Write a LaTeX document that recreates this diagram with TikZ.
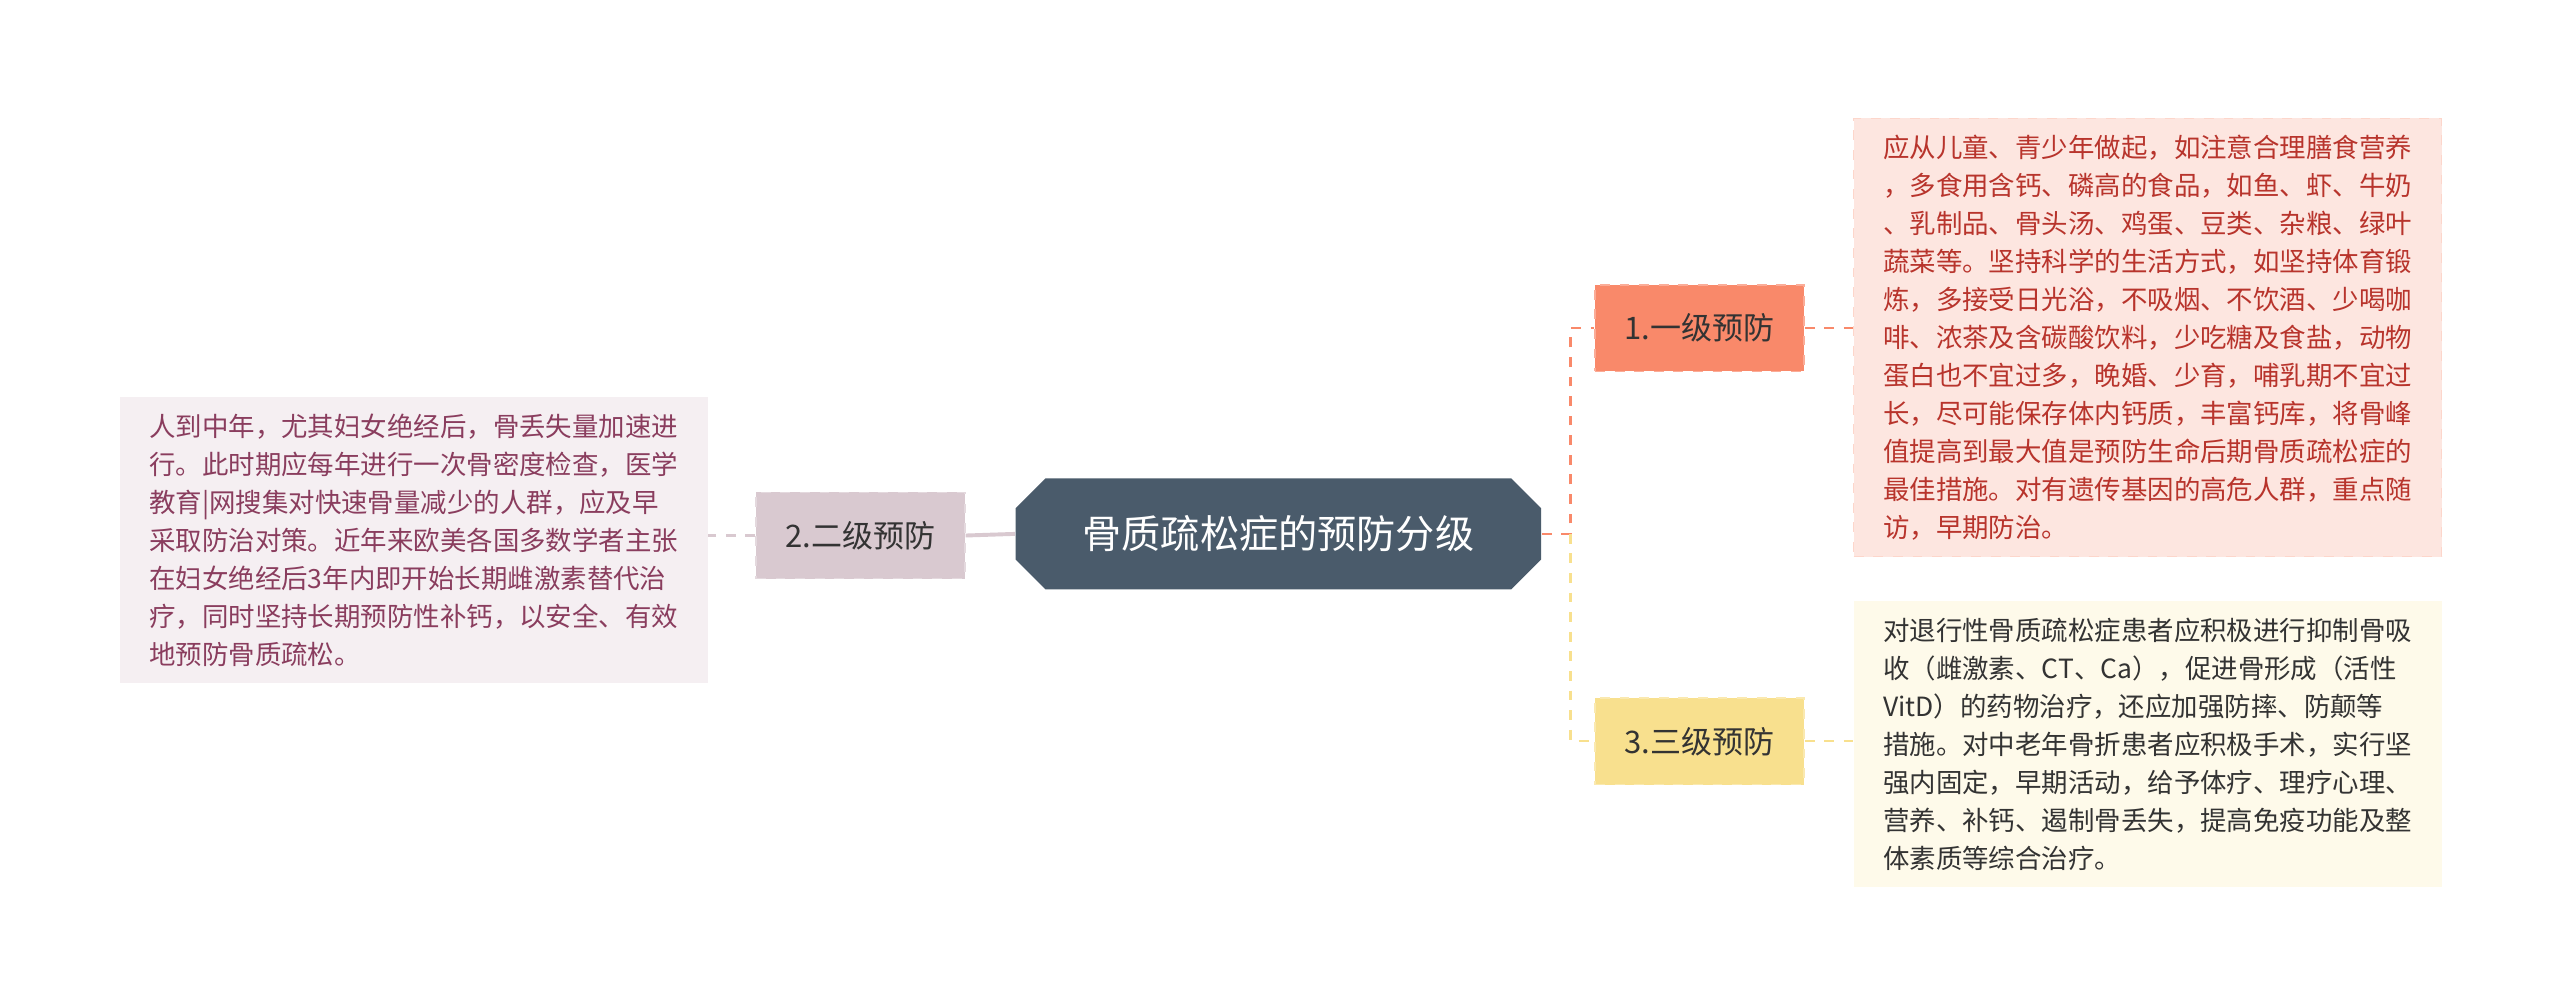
\documentclass[tikz,border=0pt]{standalone}
\usepackage{fontspec}
\setmainfont{Noto Sans CJK SC}
\usetikzlibrary{shapes.misc}
\definecolor{hubfill}{HTML}{4A5B6B}
\definecolor{onefill}{HTML}{F9896A}
\definecolor{onetext}{HTML}{FDE6E0}
\definecolor{oneink}{HTML}{B8342C}
\definecolor{twofill}{HTML}{D9C9D0}
\definecolor{twotext}{HTML}{F5EFF2}
\definecolor{twoink}{HTML}{8A3D5E}
\definecolor{threefill}{HTML}{F8E08E}
\definecolor{threetext}{HTML}{FEFAEA}
\definecolor{threeink}{HTML}{333333}
\begin{document}
\begin{tikzpicture}[x=0.5pt,y=-0.5pt]
\tikzstyle{lvl}=[font=\fontsize{9.5pt}{11pt}\selectfont,text=black!80,minimum width=64pt,minimum height=26.5pt,inner sep=0pt]
\tikzstyle{para}=[anchor=north west,align=left,inner sep=5pt,font=\fontsize{8.1pt}{11.65pt}\selectfont]
\tikzstyle{link}=[dashed,line width=0.7pt]
\useasboundingbox (0,0) rectangle (1568,612);
\fill[white] (0,0) rectangle (1568,612);
% central topic
\node [chamfered rectangle,chamfered rectangle xsep=8pt,fill=hubfill,text=white,
  minimum width=161pt,minimum height=34pt,inner sep=0pt,
  font=\fontsize{12pt}{14pt}\selectfont] (hub) at (783,327) {骨质疏松症的预防分级};
% level nodes
\node [lvl,fill=onefill,draw=onefill!70!white,dashed] (one) at (1041,201) {1.一级预防};
\node [lvl,fill=twofill,draw=twofill!70!white,dashed] (two) at (527,328) {2.二级预防};
\node [lvl,fill=threefill,draw=threefill!70!white,dashed] (three) at (1041,454) {3.三级预防};
% texts
\node [para,fill=onetext,draw=onefill!35!white,dashed,text=oneink,minimum width=180pt] (onebox) at (1135,72) {应从儿童、青少年做起，如注意合理膳食营养\\，多食用含钙、磷高的食品，如鱼、虾、牛奶\\、乳制品、骨头汤、鸡蛋、豆类、杂粮、绿叶\\蔬菜等。坚持科学的生活方式，如坚持体育锻\\炼，多接受日光浴，不吸烟、不饮酒、少喝咖\\啡、浓茶及含碳酸饮料，少吃糖及食盐，动物\\蛋白也不宜过多，晚婚、少育，哺乳期不宜过\\长，尽可能保存体内钙质，丰富钙库，将骨峰\\值提高到最大值是预防生命后期骨质疏松症的\\最佳措施。对有遗传基因的高危人群，重点随\\访，早期防治。};
\node [para,fill=twotext,text=twoink,minimum width=180pt] (twobox) at (73,243) {人到中年，尤其妇女绝经后，骨丢失量加速进\\行。此时期应每年进行一次骨密度检查，医学\\教育|网搜集对快速骨量减少的人群，应及早\\采取防治对策。近年来欧美各国多数学者主张\\在妇女绝经后3年内即开始长期雌激素替代治\\疗，同时坚持长期预防性补钙，以安全、有效\\地预防骨质疏松。};
\node [para,fill=threetext,text=threeink,minimum width=180pt] (threebox) at (1135,368) {对退行性骨质疏松症患者应积极进行抑制骨吸\\收（雌激素、CT、Ca），促进骨形成（活性\\VitD）的药物治疗，还应加强防摔、防颠等\\措施。对中老年骨折患者应积极手术，实行坚\\强内固定，早期活动，给予体疗、理疗心理、\\营养、补钙、遏制骨丢失，提高免疫功能及整\\体素质等综合治疗。};
% connectors
\coordinate (fork) at (962,327);
\draw [link,draw=onefill] (hub.east) -- (fork) |- (one.west);
\draw [link,draw=threefill] (fork) |- (three.west);
\draw [link,draw=twofill,line width=1.2pt,solid] (hub.west) -- (two.east);
\draw [link,draw=onefill] (one.east) -- (onebox.west |- one.east);
\draw [link,draw=threefill] (three.east) -- (threebox.west |- three.east);
\draw [link,draw=twofill] (two.west) -- (twobox.east |- two.west);
\end{tikzpicture}
\end{document}
